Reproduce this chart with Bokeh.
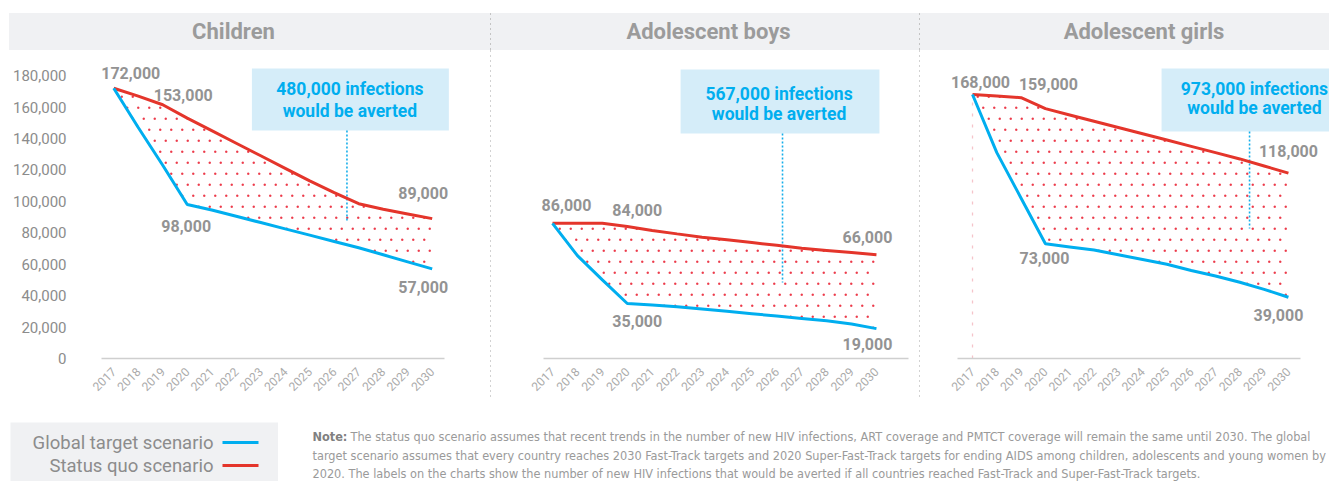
import math, zlib, struct, base64
from bokeh.plotting import figure
from bokeh.layouts import row, column
from bokeh.models import (Range1d, FixedTicker, NumeralTickFormatter, ColumnDataSource, Div, Spacer,
                          ImageURLTexture)
from bokeh.core.properties import value
from bokeh.embed import file_html
from bokeh.resources import INLINE

# ---------------- data ----------------
years = list(range(2017, 2031))

children_global = [172000, 147000, 123000, 98000, 94500, 90500, 86500, 82500, 78500, 74500, 70500, 66000, 61500, 57000]
children_status_quo = [172000, 167000, 161500, 153000, 145000, 137000, 129000, 121000, 113000, 105500, 98500, 95000, 92000, 89000]
boys_global = [86000, 65500, 50000, 35000, 34000, 33000, 31500, 30000, 28500, 27000, 25500, 24000, 22000, 19000]
boys_status_quo = [86000, 86000, 86000, 84000, 81500, 79300, 77200, 75500, 73800, 72000, 70200, 68800, 67400, 66000]
girls_global = [168000, 131000, 102000, 73000, 71000, 69000, 66000, 63000, 60000, 56000, 52500, 48500, 44000, 39000]
girls_status_quo = [168000, 167000, 166000, 159000, 155000, 151000, 147000, 143000, 139000, 135000, 131000, 127000, 122500, 118000]

panel_titles = ["Children", "Adolescent boys", "Adolescent girls"]
averted = [480000, 567000, 973000]
series_names = ["Global target scenario", "Status quo scenario"]
y_ticks = list(range(0, 180001, 20000))

note_bold = "Note:"
note_lines = [
    "The status quo scenario assumes that recent trends in the number of new HIV infections, ART coverage and PMTCT coverage will remain the same until 2030. The global",
    "target scenario assumes that every country reaches 2030 Fast-Track targets and 2020 Super-Fast-Track targets for ending AIDS among children, adolescents and young women by",
    "2020. The labels on the charts show the number of new HIV infections that would be averted if all countries reached Fast-Track and Super-Fast-Track targets.",
]

# ---------------- styles / layout ----------------
BLUE = "#00aeef"
RED = "#e4352b"
GRAY_LABEL = "#939393"
BAND = "#f0f1f3"
FONT = "Roboto"
NARROW = "Liberation Sans Narrow, DejaVu Sans Condensed, sans-serif"

series = [
    (children_global, children_status_quo),
    (boys_global, boys_status_quo),
    (girls_global, girls_status_quo),
]

labelled = [
    [(1, 2017, 17, -15), (1, 2020, -4, -23), (0, 2020, -1, 21), (1, 2030, -9, -26), (0, 2030, -9, 18)],
    [(1, 2017, 14, -18), (1, 2020, 10, -17), (1, 2030, -9, -18), (0, 2020, 10, 17), (0, 2030, -9, 15)],
    [(1, 2017, 8, -13), (1, 2020, 3, -25), (1, 2030, 0, -22), (0, 2020, -1, 14), (0, 2030, -10, 18)],
]

panels = [
    dict(width=481, xr=(2016.5, 2032.38), left=88, bounds=(2016.5, 2030.5),
         box=(2022.64, 2030.68, 145100, 184600), tx=2026.64, ty=(171800, 157800), leader=(2026.52, 87800),
         pad="padding-right:32px"),
    dict(width=428, xr=(2014.552, 2031.727), left=0, bounds=(2016.63, 2031.3),
         box=(2022.14, 2030.12, 143200, 183900), tx=2026.09, ty=(168600, 155900), leader=(2026.23, 48400),
         pad="padding-left:7px"),
    dict(width=409, xr=(2014.86, 2031.69), left=0, bounds=(2016.38, 2030.5),
         box=(2024.78, 2031.69, 144500, 184600), tx=2028.6, ty=(171800, 159100), leader=(2028.4, 82700),
         pad="padding-left:39px"),
]

PLOT_H = 350
BOTTOM = 42
Y_MAX = 196000


# staggered dot texture (22x22 tile, PNG)
def dot_tile_png(size=22, color=(236, 58, 74), radius=1.15):
    centers = [(2.75, 2.75), (13.75, 2.75), (8.25, 13.75), (19.25, 13.75)]
    rows = []
    for py in range(size):
        line = bytearray([0])
        for px in range(size):
            cx, cy = px + 0.5, py + 0.5
            d = 99.0
            for (x0, y0) in centers:
                dx = min(abs(cx - x0), size - abs(cx - x0))
                dy = min(abs(cy - y0), size - abs(cy - y0))
                d = min(d, math.hypot(dx, dy))
            a = max(0.0, min(1.0, radius + 0.5 - d))
            line += bytes([color[0], color[1], color[2], int(round(a * 255))])
        rows.append(bytes(line))
    raw = b"".join(rows)

    def chunk(t, d):
        return struct.pack(">I", len(d)) + t + d + struct.pack(">I", zlib.crc32(t + d) & 0xffffffff)
    png = (b"\x89PNG\r\n\x1a\n" + chunk(b"IHDR", struct.pack(">IIBBBBB", size, size, 8, 6, 0, 0, 0))
           + chunk(b"IDAT", zlib.compress(raw)) + chunk(b"IEND", b""))
    return "data:image/png;base64," + base64.b64encode(png).decode()


dot_texture = ImageURLTexture(url=dot_tile_png(), repetition="repeat")


def make_panel(i):
    cfg = panels[i]
    glob, sq = series[i]
    p = figure(width=cfg["width"], height=PLOT_H, output_backend="svg", toolbar_location=None,
               x_range=Range1d(*cfg["xr"]), y_range=Range1d(0, Y_MAX),
               y_axis_location="left" if i == 0 else None,
               min_border_left=cfg["left"], min_border_right=0, min_border_top=0, min_border_bottom=BOTTOM)
    p.outline_line_color = None
    p.background_fill_color = "white"
    p.border_fill_color = "white"
    p.grid.visible = False

    # dotted area between the scenarios
    p.varea(x=years, y1=glob, y2=sq, fill_alpha=0, hatch_pattern=value("dots"),
            hatch_extra={"dots": dot_texture}, hatch_color="#ec3a4a", hatch_scale=22, hatch_alpha=1)
    if i == 2:
        # faint dotted edge at the first year, as in the source graphic
        p.segment(x0=[years[0]], y0=[0], x1=[years[0]], y1=[glob[0]], line_color="#f5c4ca",
                  line_width=1.3, line_dash="3 8")

    # callout
    l, r, b, t = cfg["box"]
    p.quad(left=[l], right=[r], bottom=[b], top=[t], fill_color="#d5edf9", line_color=None)
    lx, ly = cfg["leader"]
    p.segment(x0=[lx], y0=[b], x1=[lx], y1=[ly], line_color="#14aeea", line_width=1.6, line_dash="2 2")
    p.text(x=[cfg["tx"], cfg["tx"]], y=list(cfg["ty"]),
           text=[f"{averted[i]:,} infections", "would be averted"],
           text_font=value(FONT), text_font_style="bold", text_font_size="17.5px",
           text_color="#00aeef", text_align="center", text_baseline="middle")

    # lines
    p.line(years, sq, line_color=RED, line_width=3)
    p.line(years, glob, line_color=BLUE, line_width=3)

    # value labels
    xs, ys, txt, dxs, dys = [], [], [], [], []
    for s, yr, dx, dy in labelled[i]:
        v = (glob, sq)[s][years.index(yr)]
        xs.append(yr); ys.append(v); txt.append(f"{v:,}"); dxs.append(dx); dys.append(dy)
    src = ColumnDataSource(dict(x=xs, y=ys, text=txt, dx=dxs, dy=dys))
    p.text(x="x", y="y", text="text", x_offset="dx", y_offset="dy", source=src,
           text_font=value(FONT), text_font_style="bold", text_font_size="16px",
           text_color=GRAY_LABEL, text_align="center", text_baseline="middle")

    # x axis
    ax = p.xaxis[0]
    ax.ticker = FixedTicker(ticks=years)
    ax.bounds = cfg["bounds"]
    ax.axis_line_color = "#cfcfcf"
    ax.axis_line_width = 1.5
    ax.major_tick_line_color = None
    ax.minor_tick_line_color = None
    ax.major_label_orientation = math.pi / 4
    ax.major_label_text_font = FONT
    ax.major_label_text_font_size = "12px"
    ax.major_label_text_color = "#ababab"
    ax.major_label_standoff = 5

    if i == 0:
        ya = p.yaxis[0]
        ya.ticker = FixedTicker(ticks=y_ticks)
        ya.formatter = NumeralTickFormatter(format="0,0")
        ya.axis_line_color = None
        ya.major_tick_line_color = None
        ya.minor_tick_line_color = None
        ya.major_label_standoff = 29
        ya.major_label_text_font = FONT
        ya.major_label_text_font_size = "15px"
        ya.major_label_text_color = "#8c8c8c"
    return p


def header(i):
    w = panels[i]["width"]
    html = (f'<div style="box-sizing:border-box;width:{w}px;height:37px;line-height:37px;'
            f'background:{BAND};text-align:center;font-family:Roboto;font-weight:bold;'
            f'font-size:22px;color:#9b9b9b;{panels[i]["pad"]}">{panel_titles[i]}</div>')
    return Div(text=html, width=w, height=37, margin=0)


def separator():
    html = ('<div style="width:1px;height:37px;background:repeating-linear-gradient(to bottom,#c4c4c4 0 2px,'
            f'{BAND} 2px 5px)"></div>'
            '<div style="width:1px;height:350px;background:repeating-linear-gradient(to bottom,#d2d2d2 0 2px,'
            '#ffffff 2px 5px)"></div>')
    return Div(text=html, width=1, height=387, margin=0)


cols = [column(header(i), make_panel(i), spacing=0) for i in range(3)]
top = row(Spacer(width=9, height=387), cols[0], separator(), cols[1], separator(), cols[2], spacing=0)

# legend
LW, LH = 268, 59
leg = figure(width=LW, height=LH, output_backend="svg", toolbar_location=None,
             x_range=Range1d(0, LW), y_range=Range1d(LH, 0), x_axis_location=None, y_axis_location=None,
             min_border=0)
leg.outline_line_color = None
leg.grid.visible = False
leg.background_fill_color = BAND
leg.border_fill_color = BAND
leg_y = [20, 43]
leg.text(x=[203, 203], y=leg_y, text=series_names, text_font=value(FONT), text_font_size="18.5px",
         text_color="#8c8c8c", text_align="right", text_baseline="middle")
leg.segment(x0=[212, 212], y0=leg_y, x1=[248, 248], y1=leg_y, line_color=[BLUE, RED], line_width=3)

# note
NW, NH = 1051, 59
note = figure(width=NW, height=NH, output_backend="svg", toolbar_location=None,
              x_range=Range1d(0, NW), y_range=Range1d(NH, 0), x_axis_location=None, y_axis_location=None,
              min_border=0)
note.outline_line_color = None
note.grid.visible = False
note_y = [14, 33, 51]
note.text(x=[34], y=[note_y[0]], text=[note_bold], text_font=value(NARROW), text_font_style="bold",
          text_font_size="12.6px", text_color="#808080", text_align="left", text_baseline="middle")
note.text(x=[72, 34, 34], y=note_y, text=note_lines, text_font=value(NARROW), text_font_size="12.6px",
          text_color="#9a9a9a", text_align="left", text_baseline="middle")

bottom = row(Spacer(width=10, height=LH), leg, note, spacing=0)

layout = column(Spacer(width=10, height=13), top, Spacer(width=10, height=22), bottom, spacing=0)

with open("out.html", "w") as f:
    f.write(file_html(layout, INLINE))
